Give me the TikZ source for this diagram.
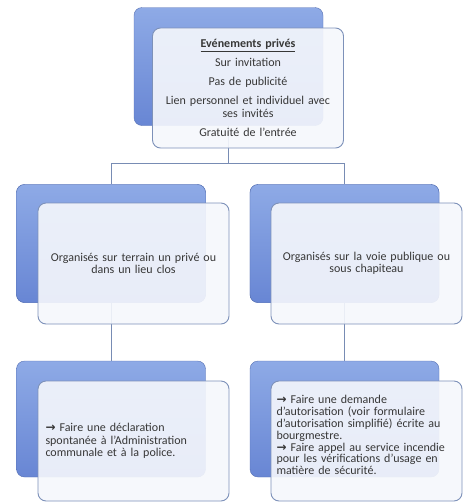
\documentclass[tikz,border=0pt]{standalone}
\usepackage{fontspec}
\setmainfont{Carlito}
\newfontfamily\arrowfont{DejaVu Sans}
\definecolor{bluetop}{RGB}{142,170,230}
\definecolor{bluebot}{RGB}{104,134,212}
\definecolor{wfill}{RGB}{245,247,252}
\definecolor{wline}{RGB}{125,145,185}
\definecolor{conn}{RGB}{120,140,180}
\definecolor{txt}{RGB}{55,55,55}
\newcommand{\arr}{{\arrowfont\bfseries →}}
\tikzset{
 backbox/.style={rectangle, rounded corners=8pt, top color=bluetop, bottom color=bluebot, draw=bluebot!85!black, line width=0.4pt, minimum width=189pt, minimum height=118pt, inner sep=0pt},
 frontbox/.style={rectangle, rounded corners=8pt, fill=wfill, fill opacity=0.91, text opacity=1, draw=wline, line width=0.9pt, minimum width=191pt, minimum height=121pt, text width=180pt, inner sep=5pt, font=\fontsize{12}{12.5}\selectfont, text=txt},
 connector/.style={draw=conn, line width=0.9pt},
}
\begin{document}
\begin{tikzpicture}[x=1pt,y=-1pt]
\useasboundingbox (0,0) rectangle (474,504);
% back boxes
\node[backbox] (b0) at (228.5,66.5) {};
\node[backbox] (b1) at (111,243.5) {};
\node[backbox] (b2) at (344.5,243.5) {};
\node[backbox, minimum height=116pt] (b3) at (111,419) {};
\node[backbox, minimum height=116pt] (b4) at (344.5,419) {};
% connectors
\coordinate (j) at (228.5,163);
\draw[connector] (b0.south) -- (j);
\draw[connector] (j) -| (b1.north);
\draw[connector] (j) -| (b2.north);
\draw[connector] (b1.south) -- (b3.north);
\draw[connector] (b2.south) -- (b4.north);
% redraw back boxes over connectors
\node[backbox] at (b1) {};
\node[backbox] at (b2) {};
% front boxes
\node[frontbox, align=center, minimum height=120pt] (w0) at (248,88) {\textbf{\underline{Evénements privés}}\\[6.5pt]
Sur invitation\\[6.5pt]
Pas de publicité\\[6.5pt]
Lien personnel et individuel avec\\ses invités\\[6.5pt]
Gratuité de l’entrée};
\node[frontbox, align=center] (w1) at (133.5,263.5) {Organisés sur terrain un privé ou\\dans un lieu clos};
\node[frontbox, align=center] (w2) at (366.5,263.5) {Organisés sur la voie publique ou\\sous chapiteau};
\node[frontbox, align=left, minimum height=120pt, text width=176pt, inner sep=7.5pt] (w3) at (133.5,441) {\arr{} Faire une déclaration\\spontanée à l’Administration\\communale et à la police.};
\node[frontbox, align=left, minimum height=120pt, font=\fontsize{12}{11.8}\selectfont] (w4) at (366.5,441) {\arr{} Faire une demande\\d’autorisation (voir formulaire\\d’autorisation simplifié) écrite au\\bourgmestre.\\\arr{} Faire appel au service incendie\\pour les vérifications d’usage en\\matière de sécurité.\\\mbox{}};
\end{tikzpicture}
\end{document}
